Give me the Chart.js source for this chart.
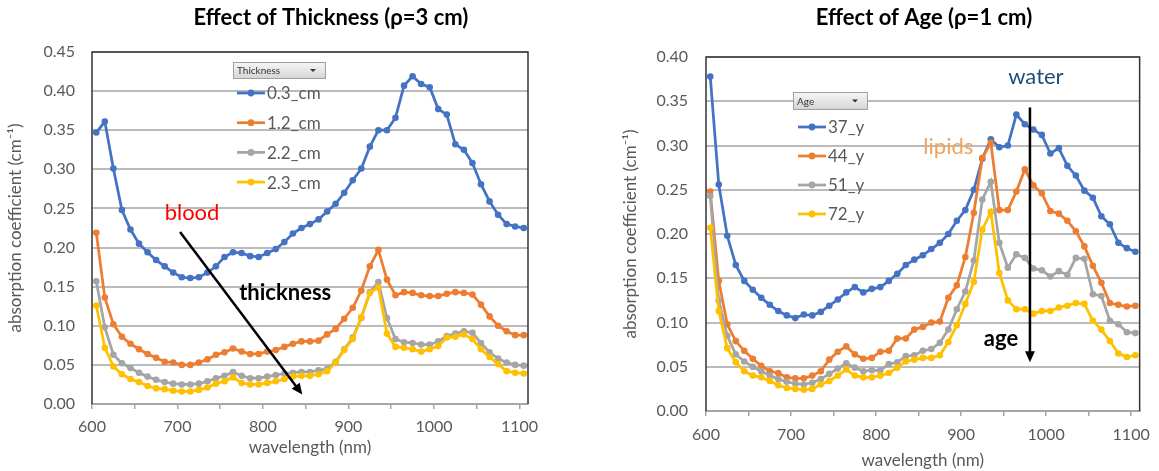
<!DOCTYPE html>
<html>
<head>
<meta charset="utf-8">
<title>Effect of thickness and age</title>
<script src="https://cdn.jsdelivr.net/npm/chart.js@4.4.1/dist/chart.umd.min.js"></script>
<style>
  html, body { margin: 0; padding: 0; background: #fff; }
  body { width: 1159px; height: 471px; position: relative; overflow: hidden; }
  .box { position: absolute; top: 0; height: 471px; }
  #left { left: 0; width: 580px; }
  #right { left: 580px; width: 579px; }
</style>
</head>
<body>
<div class="box" id="left"><canvas id="thick"></canvas></div>
<div class="box" id="right"><canvas id="age"></canvas></div>
<script>
// wavelength (nm) of every sample
const wavelengths = [605, 615, 625, 635, 645, 655, 665, 675, 685, 695,
  705, 715, 725, 735, 745, 755, 765, 775, 785, 795,
  805, 815, 825, 835, 845, 855, 865, 875, 885, 895,
  905, 915, 925, 935, 945, 955, 965, 975, 985, 995,
  1005, 1015, 1025, 1035, 1045, 1055, 1065, 1075, 1085, 1095, 1105];

// left: effect of thickness (rho = 3 cm)
const thicknessNames = ['0.3_cm', '1.2_cm', '2.2_cm', '2.3_cm'];
const thick03 = [0.347, 0.361, 0.301, 0.248, 0.223, 0.205, 0.194, 0.184, 0.176, 0.168,
  0.162, 0.161, 0.162, 0.168, 0.176, 0.188, 0.194, 0.193, 0.189, 0.188,
  0.193, 0.198, 0.207, 0.218, 0.225, 0.230, 0.236, 0.246, 0.256, 0.270,
  0.286, 0.301, 0.329, 0.350, 0.350, 0.366, 0.407, 0.419, 0.409, 0.405,
  0.377, 0.370, 0.332, 0.325, 0.308, 0.281, 0.259, 0.242, 0.230, 0.227, 0.225];
const thick12 = [0.219, 0.136, 0.102, 0.086, 0.077, 0.070, 0.064, 0.059, 0.054, 0.053,
  0.050, 0.050, 0.053, 0.057, 0.063, 0.066, 0.071, 0.067, 0.064, 0.064,
  0.067, 0.069, 0.073, 0.077, 0.080, 0.080, 0.081, 0.089, 0.096, 0.109,
  0.123, 0.145, 0.176, 0.197, 0.159, 0.139, 0.143, 0.142, 0.139, 0.138,
  0.138, 0.141, 0.143, 0.142, 0.140, 0.127, 0.112, 0.100, 0.093, 0.088, 0.088];
const thick22 = [0.157, 0.098, 0.063, 0.052, 0.046, 0.040, 0.035, 0.031, 0.028, 0.026,
  0.025, 0.025, 0.026, 0.029, 0.033, 0.036, 0.041, 0.036, 0.033, 0.033,
  0.035, 0.037, 0.039, 0.040, 0.041, 0.041, 0.043, 0.045, 0.054, 0.070,
  0.085, 0.110, 0.143, 0.156, 0.110, 0.083, 0.079, 0.078, 0.076, 0.076,
  0.080, 0.087, 0.090, 0.093, 0.091, 0.078, 0.066, 0.058, 0.053, 0.050, 0.049];
const thick23 = [0.126, 0.072, 0.048, 0.038, 0.032, 0.028, 0.023, 0.020, 0.019, 0.017,
  0.016, 0.016, 0.018, 0.021, 0.026, 0.029, 0.034, 0.027, 0.025, 0.025,
  0.027, 0.029, 0.032, 0.035, 0.036, 0.036, 0.038, 0.042, 0.053, 0.069,
  0.083, 0.111, 0.142, 0.149, 0.090, 0.073, 0.072, 0.070, 0.067, 0.070,
  0.074, 0.085, 0.086, 0.089, 0.083, 0.070, 0.060, 0.051, 0.042, 0.040, 0.039];

// right: effect of age (rho = 1 cm)
const ageNames = ['37_y', '44_y', '51_y', '72_y'];
const age37 = [0.378, 0.256, 0.198, 0.165, 0.147, 0.137, 0.128, 0.120, 0.113, 0.108,
  0.105, 0.109, 0.108, 0.112, 0.119, 0.126, 0.134, 0.140, 0.134, 0.138,
  0.140, 0.147, 0.155, 0.165, 0.171, 0.176, 0.183, 0.190, 0.200, 0.215,
  0.227, 0.250, 0.285, 0.307, 0.298, 0.300, 0.335, 0.324, 0.318, 0.312,
  0.291, 0.297, 0.277, 0.266, 0.249, 0.241, 0.220, 0.211, 0.190, 0.184, 0.180];
const age44 = [0.248, 0.147, 0.098, 0.079, 0.068, 0.059, 0.051, 0.045, 0.043, 0.038,
  0.037, 0.037, 0.040, 0.045, 0.058, 0.067, 0.073, 0.064, 0.059, 0.060,
  0.067, 0.068, 0.082, 0.082, 0.092, 0.095, 0.100, 0.101, 0.128, 0.142,
  0.174, 0.224, 0.286, 0.303, 0.227, 0.227, 0.248, 0.273, 0.255, 0.246,
  0.226, 0.223, 0.215, 0.203, 0.186, 0.164, 0.145, 0.122, 0.120, 0.118, 0.119];
const age51 = [0.243, 0.125, 0.085, 0.064, 0.056, 0.050, 0.045, 0.040, 0.036, 0.033,
  0.031, 0.030, 0.032, 0.036, 0.042, 0.048, 0.054, 0.049, 0.045, 0.046,
  0.046, 0.053, 0.055, 0.062, 0.063, 0.068, 0.070, 0.077, 0.092, 0.115,
  0.135, 0.170, 0.239, 0.259, 0.190, 0.162, 0.177, 0.173, 0.161, 0.159,
  0.152, 0.158, 0.154, 0.173, 0.172, 0.132, 0.130, 0.102, 0.098, 0.089, 0.088];
const age72 = [0.207, 0.113, 0.071, 0.055, 0.045, 0.040, 0.038, 0.034, 0.029, 0.026,
  0.025, 0.024, 0.025, 0.030, 0.034, 0.040, 0.047, 0.040, 0.038, 0.038,
  0.040, 0.043, 0.049, 0.056, 0.058, 0.060, 0.060, 0.063, 0.078, 0.097,
  0.121, 0.146, 0.205, 0.225, 0.156, 0.125, 0.115, 0.115, 0.110, 0.113,
  0.113, 0.117, 0.119, 0.122, 0.121, 0.102, 0.092, 0.079, 0.065, 0.061, 0.063];

const colors = ['#4472C4', '#ED7D31', '#A5A5A5', '#FFC000'];
const grey = '#595959';

Chart.defaults.font.family = 'Lato, "Open Sans", sans-serif';
Chart.defaults.color = grey;

function arrow(ctx, x1, y1, x2, y2) {
  const a = Math.atan2(y2 - y1, x2 - x1), len = 11, w = 5;
  ctx.strokeStyle = '#000'; ctx.fillStyle = '#000'; ctx.lineWidth = 2.5;
  ctx.beginPath();
  ctx.moveTo(x1, y1);
  ctx.lineTo(x2 - Math.cos(a) * len * 0.8, y2 - Math.sin(a) * len * 0.8);
  ctx.stroke();
  ctx.beginPath();
  ctx.moveTo(x2, y2);
  ctx.lineTo(x2 - Math.cos(a) * len - Math.sin(a) * w, y2 - Math.sin(a) * len + Math.cos(a) * w);
  ctx.lineTo(x2 - Math.cos(a) * len + Math.sin(a) * w, y2 - Math.sin(a) * len - Math.cos(a) * w);
  ctx.closePath();
  ctx.fill();
}

function makeChart(id, c) {
  const decor = {
    id: 'decor',
    afterDatasetsDraw(chart) {
      const { ctx, chartArea: a, scales: { x, y } } = chart;
      ctx.save();
      // dark frame round the plot area
      ctx.strokeStyle = '#333';
      ctx.lineWidth = 1.5;
      ctx.beginPath();
      ctx.moveTo(a.left, a.bottom); ctx.lineTo(a.left, a.top);
      ctx.lineTo(a.right, a.top); ctx.lineTo(a.right, a.bottom);
      ctx.stroke();

      // chart title
      ctx.fillStyle = '#000';
      ctx.font = 'bold 22px Lato';
      ctx.textAlign = 'center';
      ctx.textBaseline = 'middle';
      ctx.fillText(c.title, c.titleX, 18);

      // pivot style legend: field button and entries
      const L = c.legend;
      const g = ctx.createLinearGradient(0, L.top, 0, L.top + L.h);
      g.addColorStop(0, '#F7F7F7'); g.addColorStop(1, '#D6D6D6');
      ctx.fillStyle = g;
      ctx.fillRect(L.left, L.top, L.w, L.h);
      ctx.strokeStyle = '#A0A0A0'; ctx.lineWidth = 1;
      ctx.strokeRect(L.left + 0.5, L.top + 0.5, L.w, L.h);
      ctx.fillStyle = '#333';
      ctx.font = '10px Lato';
      ctx.textAlign = 'left';
      ctx.fillText(c.field, L.left + 4, L.top + L.h / 2 + 1);
      ctx.beginPath();
      const tx = L.left + L.w - 12, ty = L.top + L.h / 2 - 1;
      ctx.moveTo(tx - 3, ty); ctx.lineTo(tx + 3, ty); ctx.lineTo(tx, ty + 3); ctx.closePath();
      ctx.fill();
      c.names.forEach((name, i) => {
        const yy = L.first + i * L.step;
        ctx.strokeStyle = colors[i]; ctx.fillStyle = colors[i]; ctx.lineWidth = 2.75;
        ctx.beginPath(); ctx.moveTo(L.line, yy); ctx.lineTo(L.line + 28, yy); ctx.stroke();
        ctx.beginPath(); ctx.arc(L.line + 14, yy, 3.4, 0, Math.PI * 2); ctx.fill();
        ctx.fillStyle = grey;
        ctx.font = '17px Lato';
        ctx.fillText(name, L.line + 30, yy + 1);
      });

      // annotations placed in data units
      c.notes.forEach(n => {
        ctx.fillStyle = n.color;
        ctx.font = (n.bold ? 'bold ' : '') + '22px Lato';
        ctx.textAlign = 'center';
        ctx.fillText(n.text, x.getPixelForValue(n.at[0]), y.getPixelForValue(n.at[1]));
      });
      c.arrows.forEach(r => arrow(ctx,
        x.getPixelForValue(r.from[0]), y.getPixelForValue(r.from[1]),
        x.getPixelForValue(r.to[0]), y.getPixelForValue(r.to[1])));
      ctx.restore();
    }
  };

  return new Chart(document.getElementById(id), {
    type: 'line',
    data: {
      datasets: c.series.map((vals, i) => ({
        label: c.names[i],
        data: wavelengths.map((w, k) => ({ x: w, y: vals[k] })),
        borderColor: colors[i],
        backgroundColor: colors[i],
        pointBackgroundColor: colors[i],
        pointBorderColor: colors[i],
        borderWidth: 2.75,
        pointRadius: 3.3,
        pointBorderWidth: 0,
        tension: 0,
        order: 3 - i
      }))
    },
    options: {
      responsive: true,
      maintainAspectRatio: false,
      animation: false,
      layout: { padding: { top: c.top, right: c.right, left: 0, bottom: 0 } },
      plugins: { legend: { display: false }, tooltip: { enabled: false }, title: { display: false } },
      scales: {
        x: {
          type: 'linear', min: 600, max: 1110,
          afterFit: s => { s.height = c.xh; },
          ticks: {
            stepSize: 50, autoSkip: false, includeBounds: false, maxRotation: 0,
            padding: c.xPad, font: { size: 16 }, color: grey,
            callback: v => (v % 100 === 0 ? String(v) : '')
          },
          grid: { drawOnChartArea: false, drawTicks: true, tickLength: 5, color: '#A6A6A6', lineWidth: 1.5 },
          border: { color: '#A6A6A6', width: 2 },
          title: { display: true, text: 'wavelength (nm)', color: grey, font: { size: 17 },
            padding: { top: 0, bottom: c.xTitlePad } }
        },
        y: {
          min: 0, max: c.yMax,
          afterFit: s => { s.width = c.yw; },
          ticks: { stepSize: 0.05, padding: c.yPad, font: { size: 16 }, color: grey,
            callback: v => v.toFixed(2) },
          grid: { color: '#BBBBBB', lineWidth: 2, drawTicks: false },
          border: { display: false },
          title: { display: true, text: 'absorption coefficient (cm⁻¹)', color: grey, font: { size: 17 },
            padding: { top: c.yTitlePad, bottom: 0 } }
        }
      }
    },
    plugins: [decor]
  });
}

makeChart('thick', {
  title: 'Effect of Thickness (ρ=3 cm)', titleX: 331,
  field: 'Thickness', names: thicknessNames,
  series: [thick03, thick12, thick22, thick23],
  yMax: 0.45, top: 52, right: 52, yw: 92, xh: 67,
  xPad: 8, xTitlePad: 13, yPad: 17, yTitlePad: 5,
  legend: { left: 233, top: 62, w: 92, h: 16, line: 237, first: 93, step: 29.7 },
  notes: [
    { text: 'blood', at: [717, 0.244], color: '#FF0000' },
    { text: 'thickness', at: [826, 0.142], color: '#000', bold: true }
  ],
  arrows: [{ from: [703, 0.220], to: [846, 0.012] }]
});

makeChart('age', {
  title: 'Effect of Age (ρ=1 cm)', titleX: 344,
  field: 'Age', names: ageNames,
  series: [age37, age44, age51, age72],
  yMax: 0.40, top: 57, right: 16, yw: 126, xh: 60,
  xPad: 9, xTitlePad: 0, yPad: 18, yTitlePad: 40,
  legend: { left: 213, top: 92, w: 74, h: 17, line: 218, first: 127, step: 29 },
  notes: [
    { text: 'water', at: [988, 0.377], color: '#1F4E79' },
    { text: 'lipids', at: [885, 0.298], color: '#F4A25B' },
    { text: 'age', at: [947, 0.082], color: '#000', bold: true }
  ],
  arrows: [{ from: [981, 0.343], to: [981, 0.055] }]
});
</script>
</body>
</html>
